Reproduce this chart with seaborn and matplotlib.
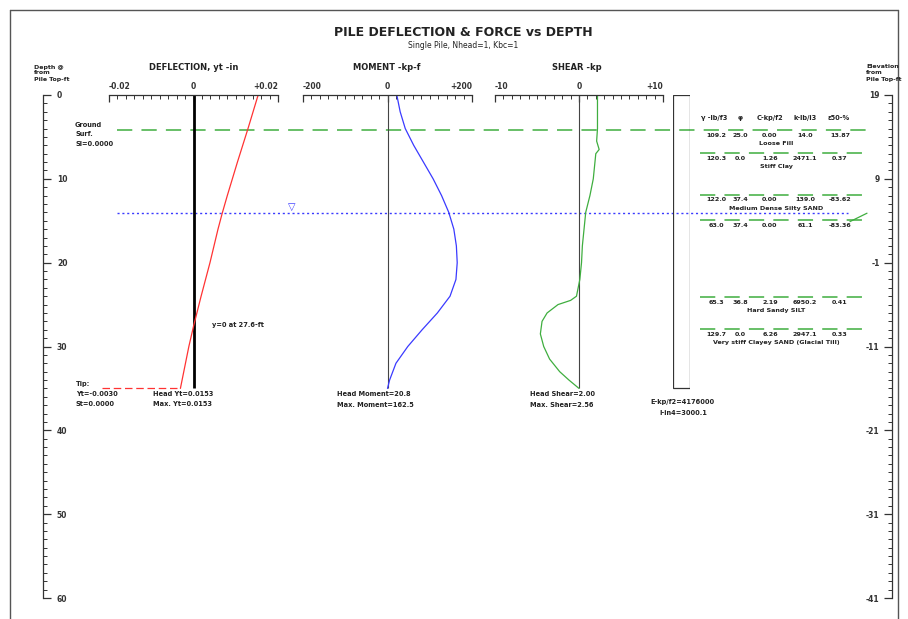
import matplotlib
matplotlib.use("Agg")
import matplotlib.pyplot as plt
import seaborn as sns
import pandas as pd
from matplotlib.ticker import MultipleLocator
from matplotlib.patches import Rectangle
from matplotlib.lines import Line2D

# ---------------- data ----------------
tip_depth = 35.0
ground_depth = 4.2
water_depth = 14.1

defl_depth = [0, 4, 8, 12, 14.1, 16, 20, 24, 27.6, 30, 33, 35]
defl_val = [0.0153, 0.0129, 0.0104, 0.0080, 0.0068, 0.0058, 0.0039, 0.0018, 0.0, -0.0011, -0.0023, -0.0031]

mom_depth = [0, 2, 4, 6, 8, 10, 12, 14, 16, 18, 20, 22, 24, 26, 28, 30, 32, 34, 35]
mom_val = [22, 30, 42, 62, 85, 108, 128, 145, 157, 163, 165, 162, 148, 118, 82, 48, 20, 5, 0]

shear_depth = [0, 4, 5.5, 6.5, 7, 10, 12, 14, 16, 18, 20, 22, 23, 24, 24.5, 25, 26, 27, 28.5, 30, 31.5, 33, 34, 35]
shear_val = [2.2, 2.2, 2.1, 2.4, 2.0, 1.7, 1.3, 0.8, 0.6, 0.4, 0.3, 0.1, -0.1, -0.3, -1.0, -2.5, -3.8, -4.4, -4.6, -4.2, -3.5, -2.3, -1.2, 0.0]

depth_ticks = [0, 10, 20, 30, 40, 50, 60]
elev_labels = ["19", "9", "-1", "-11", "-21", "-31", "-41"]

defl_ticks = [-0.02, 0, 0.02]
defl_ticklabels = ["-0.02", "0", "+0.02"]
mom_ticks = [-200, 0, 200]
mom_ticklabels = ["-200", "0", "+200"]
shear_ticks = [-10, 0, 10]
shear_ticklabels = ["-10", "0", "+10"]

layer_depths = [4.2, 6.95, 11.9, 14.9, 24.1, 27.9]
layer_rows = [
    ["109.2", "25.0", "0.00", "14.0", "13.87"],
    ["120.3", "0.0", "1.26", "2471.1", "0.37"],
    ["122.0", "37.4", "0.00", "139.0", "-83.62"],
    ["63.0", "37.4", "0.00", "61.1", "-83.36"],
    ["65.3", "36.8", "2.19", "6950.2", "0.41"],
    ["129.7", "0.0", "6.26", "2947.1", "0.33"],
]
layer_names = ["Loose Fill", "Stiff Clay", "Medium Dense Silty SAND", "",
               "Hard Sandy SILT", "Very stiff Clayey SAND (Glacial Till)"]
table_headers = ["\u03b3 -lb/f3", "\u03c6", "C-kp/f2", "k-lb/i3", "\u03b550-%"]

# ---------------- style ----------------
sns.set_theme(style="white")
plt.rcParams["font.family"] = ["DejaVu Sans"]
plt.rcParams["font.weight"] = "bold"

W, H = 908, 619
fig = plt.figure(figsize=(W / 100, H / 100), dpi=100)
fig.patch.set_facecolor("white")

def fx(px):
    return px / W

def fy(py):
    return 1 - py / H

TXT = "#222222"

def ftext(px, py, s, size=5, ha="left", va="center", **kw):
    fig.text(fx(px), fy(py), s, fontsize=size, ha=ha, va=va, color=TXT, **kw)

top_px, bot_px = 95, 598
bottom = fy(bot_px)
height = (bot_px - top_px) / H

GREEN = "#3fae3f"
BLUE = "#3a3aff"
RED = "#ff3333"

# ---------------- base depth axes ----------------
axl, axr = 43, 892
ax = fig.add_axes([fx(axl), bottom, fx(axr - axl), height])
ax.set_facecolor("none")
ax.set_xlim(0, 1)
ax.set_ylim(60, 0)
for s in ["top", "bottom", "right"]:
    ax.spines[s].set_visible(False)
ax.spines["left"].set_color("#333333")
ax.spines["left"].set_linewidth(0.9)
ax.set_xticks([])
ax.set_yticks(depth_ticks)
ax.yaxis.set_minor_locator(MultipleLocator(1))
ax.tick_params(axis="y", which="major", direction="in", length=6, width=0.9,
               pad=-10, labelsize=5.5, left=True, colors="#333333")
ax.tick_params(axis="y", which="minor", direction="in", length=3, width=0.7, left=True,
               colors="#333333")
for t in ax.get_yticklabels():
    t.set_horizontalalignment("left")

axe = ax.twinx()
axe.set_ylim(60, 0)
for s in ["top", "bottom", "left"]:
    axe.spines[s].set_visible(False)
axe.spines["right"].set_color("#333333")
axe.spines["right"].set_linewidth(0.9)
axe.set_yticks(depth_ticks)
axe.set_yticklabels(elev_labels)
axe.yaxis.set_minor_locator(MultipleLocator(1))
axe.tick_params(axis="y", which="major", direction="in", length=6, width=0.9,
                pad=-9, labelsize=5.5, right=True, colors="#333333")
axe.tick_params(axis="y", which="minor", direction="in", length=3, width=0.7, right=True,
                colors="#333333")
for t in axe.get_yticklabels():
    t.set_horizontalalignment("right")
axe.grid(False)
ax.grid(False)

def xf(px):
    return (px - axl) / (axr - axl)

# ground, layers and water table
ax.hlines(ground_depth, xf(117), xf(867), color=GREEN, lw=1.1, linestyles=(0, (10, 6)))
for d in layer_depths[1:]:
    ax.hlines(d, xf(700), xf(867), color=GREEN, lw=1.1, linestyles=(0, (10, 6)))
ax.hlines(water_depth, xf(117), xf(848), color=BLUE, lw=1.0, linestyles=(0, (1.5, 2)))
ax.text(xf(292), water_depth - 0.15, "\u25bd", color=BLUE, fontsize=7, ha="center",
        va="bottom", fontweight="normal")
ax.plot([xf(850), xf(867)], [water_depth + 1.0, water_depth], color=GREEN, lw=0.9,
        clip_on=False)

# soil table
col_x = [716, 740, 770, 805, 840]
head_x = [714, 740, 770, 805, 839]
for hx, h in zip(head_x, table_headers):
    ftext(hx, 118, h, size=4.8, ha="center")
for d, row, name in zip(layer_depths, layer_rows, layer_names):
    for cx, v in zip(col_x, row):
        ax.text(xf(cx), d + 0.62, v, fontsize=4.6, ha="center", va="center", color=TXT)
    if name:
        ax.text(xf(776), d + 1.62, name, fontsize=4.6, ha="center", va="center", color=TXT)

# ---------------- panels ----------------
def panel(left_px, width_px, xlim, ticks, ticklabels, minor):
    a = fig.add_axes([fx(left_px), bottom, fx(width_px), height])
    a.set_facecolor("none")
    a.set_xlim(*xlim)
    a.set_ylim(60, 0)
    for s in ["bottom", "left", "right"]:
        a.spines[s].set_visible(False)
    a.spines["top"].set_color("#333333")
    a.spines["top"].set_linewidth(0.9)
    a.set_yticks([])
    a.xaxis.tick_top()
    a.set_xticks(ticks)
    labs = a.set_xticklabels(ticklabels)
    labs[0].set_horizontalalignment("left")
    labs[-1].set_horizontalalignment("right")
    a.xaxis.set_minor_locator(MultipleLocator(minor))
    a.tick_params(axis="x", which="major", direction="in", length=5, width=0.9,
                  pad=3, labelsize=5.5, top=True, bottom=False, colors="#333333")
    a.tick_params(axis="x", which="minor", direction="in", length=3, width=0.7,
                  top=True, bottom=False, colors="#333333")
    a.grid(False)
    return a

ax_d = panel(109, 169, (-0.02, 0.02), defl_ticks, defl_ticklabels, 0.002)
ax_m = panel(303, 169, (-200, 200), mom_ticks, mom_ticklabels, 20)
ax_s = panel(495, 168, (-10, 10), shear_ticks, shear_ticklabels, 1)

ax_d.vlines(0, 0, tip_depth, color="black", lw=2.0)
ax_m.vlines(0, 0, tip_depth, color="#444444", lw=0.8)
ax_s.vlines(0, 0, tip_depth, color="#444444", lw=0.8)

df_d = pd.DataFrame({"depth": defl_depth, "defl": defl_val})
df_m = pd.DataFrame({"depth": mom_depth, "moment": mom_val})
df_s = pd.DataFrame({"depth": shear_depth, "shear": shear_val})
sns.lineplot(data=df_d, x="defl", y="depth", orient="y", sort=False, color=RED, lw=0.9, ax=ax_d)
sns.lineplot(data=df_m, x="moment", y="depth", orient="y", sort=False, color=BLUE, lw=0.9, ax=ax_m)
sns.lineplot(data=df_s, x="shear", y="depth", orient="y", sort=False, color=GREEN, lw=0.9, ax=ax_s)
for a in (ax_d, ax_m, ax_s):
    a.set_xlabel("")
    a.set_ylabel("")
    a.set_ylim(60, 0)

# tip deflection marker
ax_d.plot([-0.0217, defl_val[-1]], [tip_depth, tip_depth], color=RED, lw=0.9,
          ls=(0, (6, 3)), clip_on=False)

# pile
ax_p = fig.add_axes([fx(673), bottom, fx(17), height])
ax_p.set_facecolor("none")
ax_p.set_xlim(0, 1)
ax_p.set_ylim(60, 0)
ax_p.axis("off")
ax_p.add_patch(Rectangle((0, 0), 1, tip_depth, fill=False, ec="#333333", lw=0.9))

# ---------------- texts ----------------
ftext(463, 33, "PILE DEFLECTION & FORCE vs DEPTH", size=9, ha="center")
ftext(463, 45, "Single Pile, Nhead=1, Kbc=1", size=5.5, ha="center", fontweight="normal")

ftext(194, 67, "DEFLECTION, yt -in", size=6, ha="center")
ftext(387, 67, "MOMENT -kp-f", size=6, ha="center")
ftext(577, 67, "SHEAR -kp", size=6, ha="center")

for i, s in enumerate(["Depth @", "from", "Pile Top-ft"]):
    ftext(34, 67 + 6 * i, s, size=4.5)
for i, s in enumerate(["Elevation", "from", "Pile Top-ft"]):
    ftext(866, 67 + 6 * i, s, size=4.5)

for i, s in enumerate(["Ground", "Surf.", "Sl=0.0000"]):
    ftext(75, 125 + 9.5 * i, s, size=4.8)
for i, s in enumerate(["Tip:", "Yt=-0.0030", "St=0.0000"]):
    ftext(76, 384 + 10 * i, s, size=4.8)

ftext(153, 394, "Head Yt=0.0153", size=4.8)
ftext(153, 404, "Max. Yt=0.0153", size=4.8)
ftext(212, 325, "y=0 at 27.6-ft", size=4.8)
ftext(337, 394, "Head Moment=20.8", size=4.8)
ftext(337, 405, "Max. Moment=162.5", size=4.8)
ftext(530, 394, "Head Shear=2.00", size=4.8)
ftext(530, 405, "Max. Shear=2.56", size=4.8)
ftext(650, 402, "E-kp/f2=4176000", size=4.8)
ftext(659, 413, "I-in4=3000.1", size=4.8)

# frame
for xs, ys in [((10, 10), (10, 619)), ((10, 898), (10, 10)), ((898, 898), (10, 619))]:
    fig.add_artist(Line2D([fx(xs[0]), fx(xs[1])], [fy(ys[0]), fy(ys[1])],
                          transform=fig.transFigure, color="#555555", lw=1.0))

fig.savefig("out.png", dpi=100, facecolor="white")
